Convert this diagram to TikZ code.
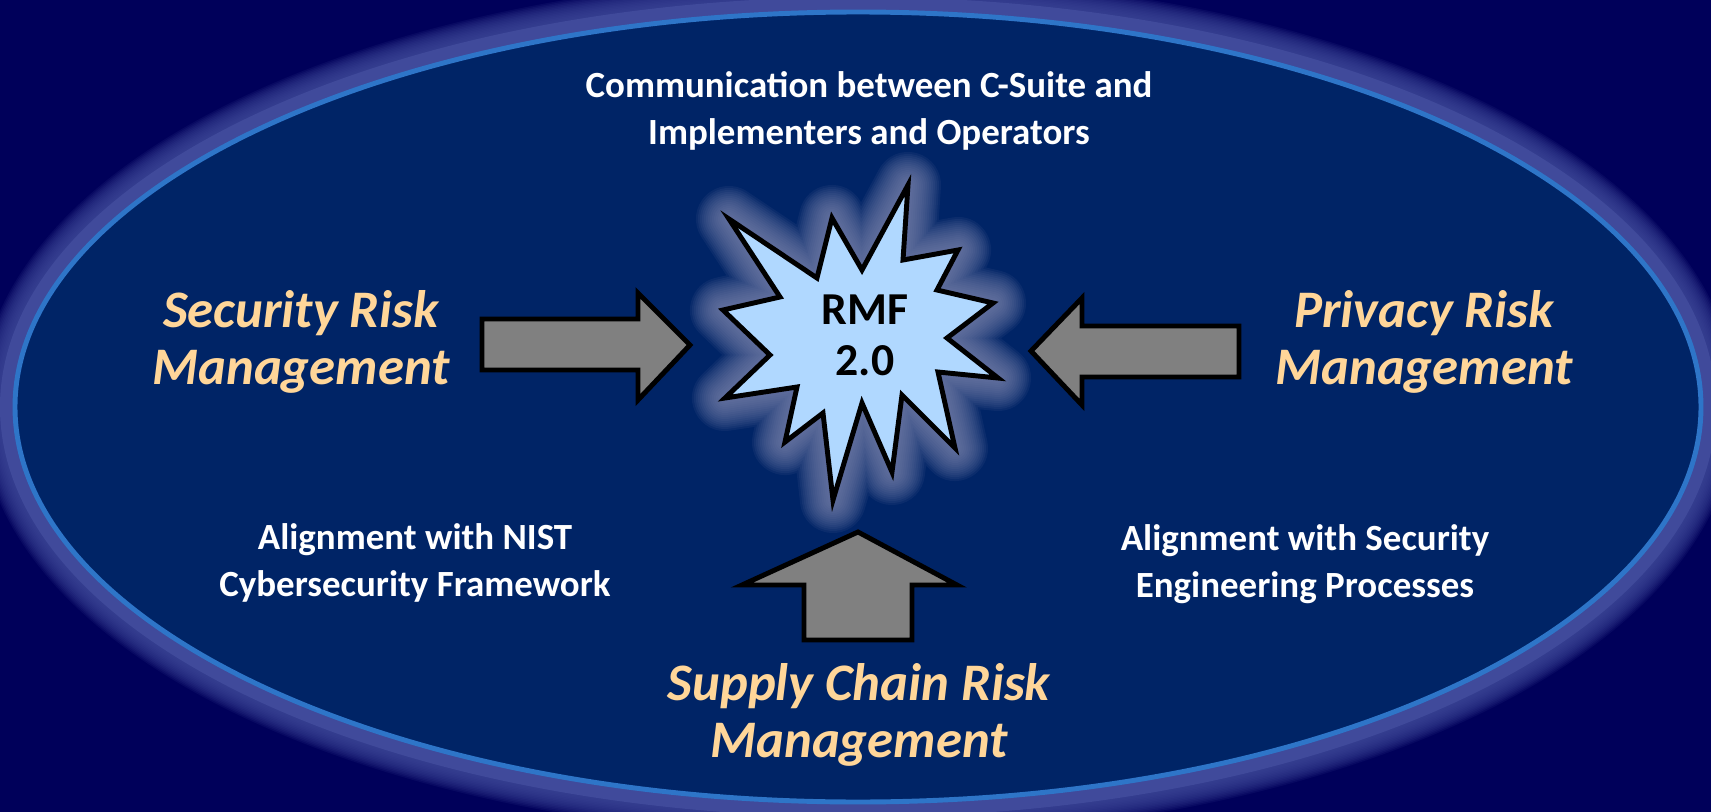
\documentclass[tikz,border=0pt]{standalone}
\usepackage{fontspec}
\setmainfont{Carlito}
\usetikzlibrary{positioning}

\definecolor{bgnavy}{RGB}{0,0,90}
\definecolor{ovalblue}{RGB}{0,36,102}
\definecolor{ovalrim}{RGB}{46,117,200}
\definecolor{ovalglow}{RGB}{64,74,155}
\definecolor{starfill}{RGB}{176,216,255}
\definecolor{starglow}{RGB}{125,135,175}
\definecolor{riskorange}{RGB}{255,214,153}
\definecolor{arrowgray}{RGB}{128,128,128}

\begin{document}
\begin{tikzpicture}[x=0.01cm,y=-0.01cm,line join=miter,
      blockarrow/.style={draw=black,fill=arrowgray,line width=1.4pt},
      riskname/.style={text=riskorange,align=center,font=\fontsize{15}{16.2}\selectfont\bfseries\itshape},
      note/.style={text=white,align=center,font=\fontsize{10.5}{13.2}\selectfont\bfseries}]
    % --- background and oval ---
    \fill[bgnavy] (0,0) rectangle (1711,812);
    \useasboundingbox (0,0) rectangle (1711,812);
    \foreach \w in {72,69,...,33}
      \draw[ovalglow,line width=\w*0.01cm,opacity=0.13] (858,407) ellipse [x radius=843,y radius=395];
    \draw[ovalglow,line width=0.3cm] (858,407) ellipse [x radius=843,y radius=395];
    \draw[fill=ovalblue,draw=ovalrim,line width=1.4pt] (858,407) ellipse [x radius=843,y radius=395];
    % --- star ---
    \def\starpath{(908,185) -- (903,260) -- (958,250) -- (937,290) -- (993,303) -- (947,338)
      -- (998,378) -- (938,372) -- (955,448) -- (902,395) -- (892,472) -- (862,403)
      -- (833,500) -- (823,413) -- (785,442) -- (797,387) -- (725,398) -- (770,355)
      -- (723,310) -- (780,297) -- (729,219) -- (817,278) -- (832,218) -- (862,270) -- cycle}
    \foreach \w in {66,62,...,10}
      \draw[starglow,line width=\w*0.01cm,line join=round,opacity=0.09] \starpath;
    \fill[starglow,opacity=0.5] \starpath;
    \draw[fill=starfill,draw=black,line width=1.4pt] \starpath;
    \node[align=center,font=\fontsize{13}{14.5}\selectfont\bfseries] (rmf) at (865,335) {RMF\\2.0};
    % --- block arrows into the star ---
    \draw[blockarrow] (482,319) -- (638,319) -- (638,293) -- (690,345) -- (638,400) -- (638,370) -- (482,370) -- cycle;
    \draw[blockarrow] (1239,326) -- (1082,326) -- (1082,298) -- (1031,351) -- (1082,405) -- (1082,377) -- (1239,377) -- cycle;
    \draw[blockarrow] (804,640) -- (804,585) -- (742,585) -- (858,532) -- (957,585) -- (912,585) -- (912,640) -- cycle;
    % --- labels ---
    \node[note] (comm) at (869,111) {Communication between C-Suite and\\Implementers and Operators};
    \node[riskname] (sec) at (301,342) {Security Risk\\Management};
    \node[riskname] (priv) at (1424,342) {Privacy Risk\\Management};
    \node[riskname] (scrm) at (859,715) {Supply Chain Risk\\Management};
    \node[note] (csf) at (415,563) {Alignment with NIST\\Cybersecurity Framework};
    \node[note] (eng) at (1305,564) {Alignment with Security\\Engineering Processes};
\end{tikzpicture}
\end{document}
